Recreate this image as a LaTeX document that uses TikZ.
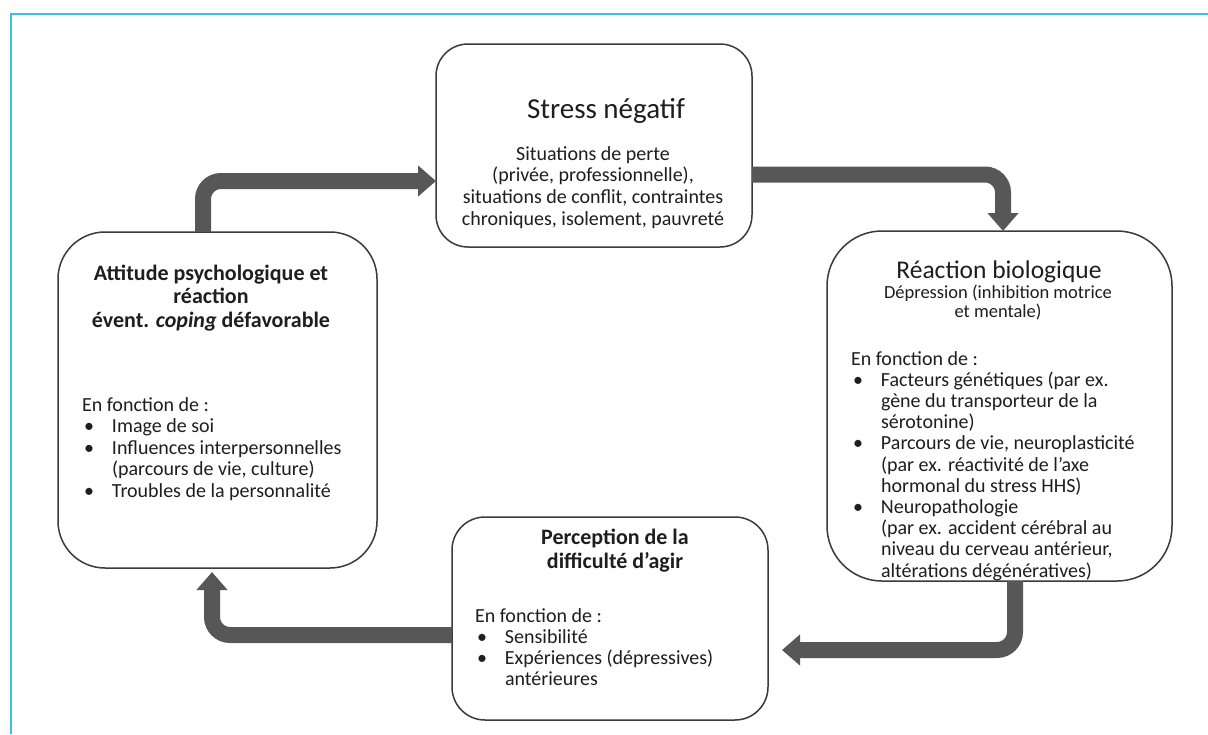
\documentclass[tikz,border=0pt]{standalone}
\usepackage{fontspec}
\setmainfont{Carlito}
\usetikzlibrary{arrows.meta}
\definecolor{frameblue}{HTML}{3CBFEB}
\definecolor{boxline}{HTML}{3A3A3A}
\definecolor{arrowgray}{HTML}{575757}
\definecolor{txt}{HTML}{1E1E1E}
\newcommand\bl{\makebox[30pt][l]{\hspace{2pt}\textbullet}}
\newcommand\ind{\hspace*{30pt}}
\newcommand\topstrut[1]{\rule{0pt}{#1}}
\begin{document}
\begin{tikzpicture}[x=1pt,y=-1pt,
  box/.style={draw=boxline, line width=1.5pt, fill=white, inner sep=0pt, outer sep=0pt},
  txtnode/.style={inner sep=0pt, outer sep=0pt, text=txt},
  flow/.style={draw=arrowgray, line width=16pt, rounded corners=18pt, -{Triangle[width=30pt,length=18pt]}},
  body/.style={txtnode, font={\fontsize{20pt}{21.5pt}\selectfont}},
]
\useasboundingbox (0,0) rectangle (1208,734);
\fill[white] (0,0) rectangle (1208,734);
\draw[frameblue, line width=2.5pt] (11,734) -- (11,14) -- (1208,14);

% boxes
\node[box, rounded corners=32pt, minimum width=316pt, minimum height=203pt] (stress) at (594,145.5) {};
\node[box, rounded corners=55pt, minimum width=345pt, minimum height=350pt] (reaction) at (999.5,406) {};
\node[box, rounded corners=47pt, minimum width=319pt, minimum height=336pt] (attitude) at (217.5,400) {};
\node[box, rounded corners=33pt, minimum width=316pt, minimum height=203pt] (perception) at (610,618.5) {};

% texts: stress
\node[txtnode, anchor=base, font={\fontsize{29pt}{32pt}\selectfont}] (stressT) at (606,118) {Stress négatif};
\node[body, anchor=north, align=center, font={\fontsize{20pt}{21.7pt}\selectfont}] (stressB) at (593,142)
  {\topstrut{18pt}Situations de perte\\(privée, professionnelle),\\situations de conflit, contraintes\\chroniques, isolement, pauvreté};

% texts: reaction
\node[txtnode, anchor=base, font={\fontsize{25.5pt}{28pt}\selectfont}] (reactT) at (999,278) {Réaction biologique};
\node[txtnode, anchor=north, align=center, font={\fontsize{18.5pt}{19.5pt}\selectfont}] (reactS) at (998,281)
  {\topstrut{17pt}Dépression (inhibition motrice\\et mentale)};
\node[body, anchor=north west, align=left, font={\fontsize{20pt}{21.2pt}\selectfont}] (reactB) at (851,347)
  {\topstrut{18pt}En fonction de :\\
   \bl Facteurs génétiques (par ex.\\
   \ind gène du transporteur de la\\
   \ind sérotonine)\\
   \bl Parcours de vie, neuroplasticité\\
   \ind (par ex. réactivité de l’axe\\
   \ind hormonal du stress HHS)\\
   \bl Neuropathologie\\
   \ind (par ex. accident cérébral au\\
   \ind niveau du cerveau antérieur,\\
   \ind altérations dégénératives)};

% texts: attitude
\node[txtnode, anchor=north, align=center, font={\bfseries\fontsize{22pt}{23.5pt}\selectfont}] (attT) at (211,260)
  {\topstrut{20pt}Attitude psychologique et\\réaction\\évent. \textit{coping} défavorable};
\node[body, anchor=north west, align=left] (attB) at (82,393)
  {\topstrut{18pt}En fonction de :\\
   \bl Image de soi\\
   \bl Influences interpersonnelles\\
   \ind (parcours de vie, culture)\\
   \bl Troubles de la personnalité};

% texts: perception
\node[txtnode, anchor=north, align=center, font={\bfseries\fontsize{22pt}{24pt}\selectfont}] (percT) at (615,524)
  {\topstrut{20pt}Perception de la\\difficulté d’agir};
\node[body, anchor=north west, align=left, font={\fontsize{20pt}{21pt}\selectfont}] (percB) at (475,604)
  {\topstrut{18pt}En fonction de :\\
   \bl Sensibilité\\
   \bl Expériences (dépressives)\\
   \ind antérieures};

% arrows
\draw[flow] ([xshift=-14.5pt]attitude.north) |- ([yshift=-35.5pt]stress.west);
\draw[flow] ([yshift=-29pt]stress.east) -| ([xshift=3.5pt]reaction.north);
\draw[flow] ([xshift=15.5pt]reaction.south) |- ([xshift=14pt,yshift=-31.5pt]perception.east);
\draw[flow] ([yshift=-16.5pt]perception.west) -| ([xshift=-5.5pt,yshift=-4pt]attitude.south);
\end{tikzpicture}
\end{document}
